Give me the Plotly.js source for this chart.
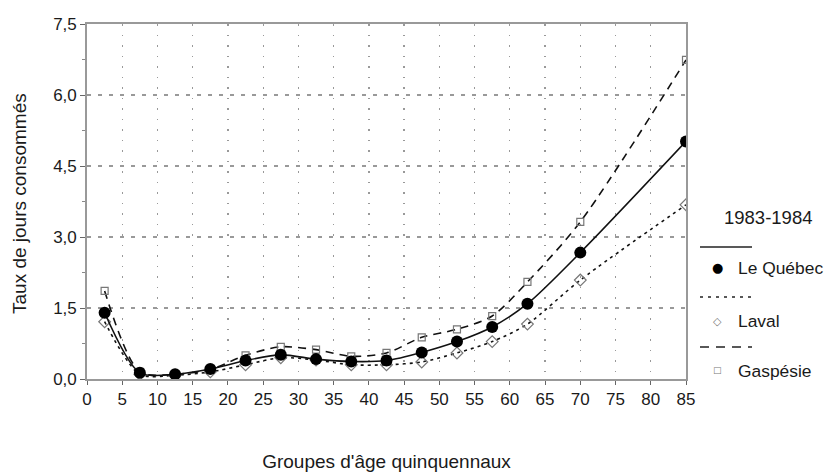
<!DOCTYPE html>
<html><head><meta charset="utf-8">
<script src="https://cdn.plot.ly/plotly-3.0.1.min.js"></script>
<style>body{margin:0;background:#fff}#c{width:825px;height:472px}</style>
</head><body><div id="c"></div>
<script>
const ages = [2.5, 7.5, 12.5, 17.5, 22.5, 27.5, 32.5, 37.5, 42.5, 47.5, 52.5, 57.5, 62.5, 70, 85];
const quebec = [1.40, 0.13, 0.10, 0.21, 0.39, 0.51, 0.42, 0.37, 0.39, 0.56, 0.79, 1.10, 1.59, 2.67, 5.02];
const laval = [1.21, 0.10, 0.08, 0.15, 0.30, 0.45, 0.40, 0.30, 0.30, 0.36, 0.55, 0.79, 1.16, 2.09, 3.68];
const gaspesie = [1.86, 0.15, 0.10, 0.20, 0.50, 0.68, 0.62, 0.48, 0.55, 0.88, 1.05, 1.33, 2.05, 3.32, 6.74];
const xTicks = [0,5,10,15,20,25,30,35,40,45,50,55,60,65,70,75,80,85];
const yTicks = [0, 1.5, 3.0, 4.5, 6.0, 7.5];
const legendNames = ['Le Québec', 'Laval', 'Gaspésie'];
const legendTitle = '1983-1984';

const F = '"Liberation Sans", Arial, sans-serif';
const TXT = '#1a1a1a';
const line = {color:'#111', width:1.6, shape:'spline', smoothing:0.8};
const traces = [
  {x:ages, y:gaspesie, mode:'lines+markers', name:legendNames[2],
   line:Object.assign({}, line, {dash:'8px,6px'}),
   marker:{symbol:'square-open', size:7, color:'#777', line:{width:1.2}}},
  {x:ages, y:laval, mode:'lines+markers', name:legendNames[1],
   line:Object.assign({}, line, {dash:'3px,4px'}),
   marker:{symbol:'diamond-open', size:9, color:'#777', line:{width:1.2}}},
  {x:ages, y:quebec, mode:'lines+markers', name:legendNames[0],
   line:line,
   marker:{symbol:'circle', size:12, color:'#000'}}
];

function px(x){return (x-87)/599;}
function py(y){return (379-y)/355;}
const shapes = [
  {type:'line', xref:'paper', yref:'paper', x0:px(700), x1:px(752), y0:py(247), y1:py(247), line:{color:'#222', width:1.4}},
  {type:'line', xref:'paper', yref:'paper', x0:px(700), x1:px(752), y0:py(297), y1:py(297), line:{color:'#222', width:1.4, dash:'3px,5px'}},
  {type:'line', xref:'paper', yref:'paper', x0:px(700), x1:px(752), y0:py(347), y1:py(347), line:{color:'#222', width:1.4, dash:'9px,7px'}}
];
function A(text, x, y, size, opts){
  return Object.assign({text:text, xref:'paper', yref:'paper', x:px(x), y:py(y), xanchor:'center', yanchor:'middle', showarrow:false, font:{family:F, size:size, color:TXT}}, opts||{});
}
const ann = [
  A('Taux de jours consommés', 19, 204, 19, {textangle:-90}),
  A(legendTitle, 768, 218, 18.5),
  A(legendNames[0], 736, 268, 17.4, {xanchor:'left'}),
  A(legendNames[1], 736, 321, 17.4, {xanchor:'left'}),
  A(legendNames[2], 736, 371, 17.4, {xanchor:'left'}),
  A('●', 717, 267, 13, {font:{family:'DejaVu Sans', size:13, color:'#000'}}),
  A('◇', 717, 321, 11, {font:{family:'DejaVu Sans', size:11, color:'#777'}}),
  A('□', 717, 370, 9, {font:{family:'DejaVu Sans', size:9, color:'#777'}})
];
const layout = {
  width:825, height:472, showlegend:false,
  margin:{l:87, r:139, t:24, b:93},
  paper_bgcolor:'#fff', plot_bgcolor:'#fff',
  separators:',.',
  font:{family:F, size:17, color:TXT},
  xaxis:{range:[0,85], tickvals:xTicks, ticks:'outside', ticklen:4, tickcolor:'#666',
    showline:true, linecolor:'#999', linewidth:1.8, mirror:true,
    showgrid:true, gridcolor:'#999', griddash:'1.5px,9px', gridwidth:1.3, zeroline:false,
    title:{text:'Groupes d\'âge quinquennaux', standoff:46, font:{family:F, size:19, color:TXT}},
    tickfont:{family:F, size:17, color:TXT}},
  yaxis:{range:[0,7.5], tickvals:yTicks, tickformat:'.1f', ticks:'outside', ticklen:5, tickcolor:'#666',
    minor:{dtick:0.75, ticks:'outside', ticklen:3, tickcolor:'#888', showgrid:false},
    showline:true, linecolor:'#999', linewidth:1.8, mirror:true,
    showgrid:true, gridcolor:'#999', griddash:'4px,7px', gridwidth:1.3, zeroline:false,
    tickfont:{family:F, size:17, color:TXT}},
  shapes:shapes, annotations:ann
};
Plotly.newPlot('c', traces, layout, {displayModeBar:false, staticPlot:true});
</script></body></html>
